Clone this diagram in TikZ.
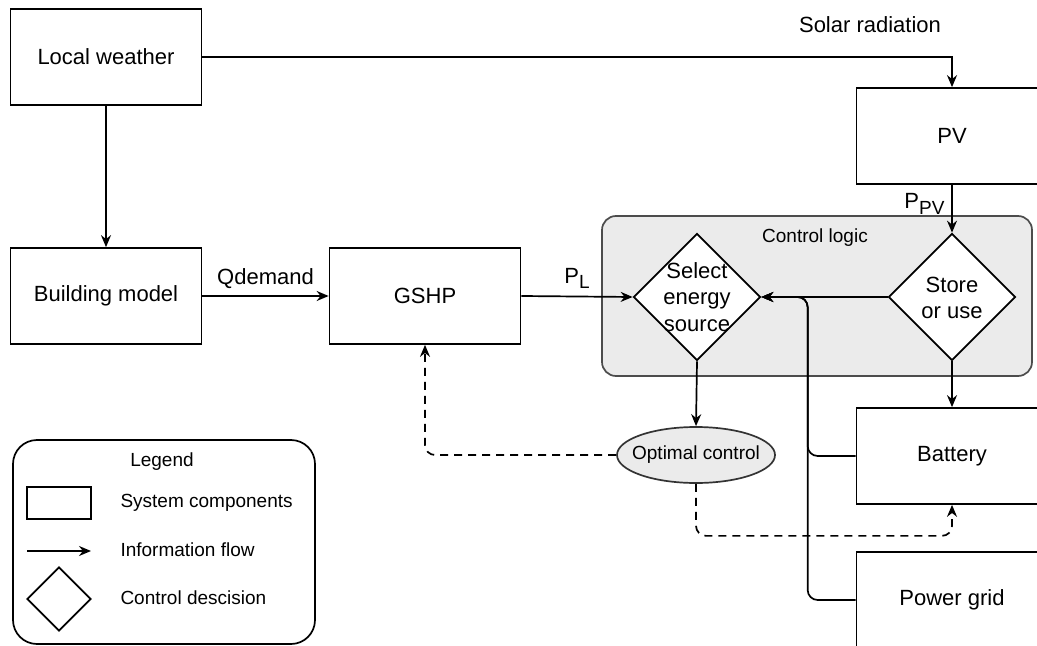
\documentclass[tikz,border=0pt]{standalone}
\usepackage{fontspec}
\setmainfont{Liberation Sans}
\usetikzlibrary{shapes.geometric,arrows.meta}
\definecolor{panel}{HTML}{EBEBEB}
\newcommand\bigfont{\fontsize{11pt}{13.4pt}\selectfont}
\newcommand\smallfont{\fontsize{9.5pt}{11.5pt}\selectfont}
\newcommand\lowsub[1]{\raisebox{-0.45ex}{\smallfont #1}}

\begin{document}
\begin{tikzpicture}[x=0.5pt, y=-0.5pt, >={Stealth[length=6pt,width=5pt]}, line width=0.85pt,
  every node/.style={font=\bigfont},
  comp/.style={draw, minimum width=95.5pt, minimum height=48pt},
  choice/.style={draw, fill=white, diamond, aspect=1, minimum size=63.5pt, inner sep=0pt},
  flow/.style={->},
  ctrlflow/.style={->, dash pattern=on 4pt off 3pt, rounded corners=5pt}]
  \useasboundingbox (0,0) rectangle (1037,646);
  % control logic panel and legend frame
  \node[draw=black!70, fill=panel, rounded corners=7pt, minimum width=215pt, minimum height=80pt] (logic) at (817,296) {};
  \node[font=\smallfont] (logiclbl) at (815,238) {Control logic};
  \node[draw, rounded corners=12pt, minimum width=151pt, minimum height=102pt] (legend) at (164,542) {};

  % components
  \node[comp] (weather) at (106,57) {Local weather};
  \node[comp] (building) at (106,296) {Building model};
  \node[comp] (gshp) at (425,296) {GSHP};
  \node[comp] (pv) at (952,136) {PV};
  \node[comp] (battery) at (952,456) {Battery};
  \node[comp] (grid) at (952,600) {Power grid};
  \node (solarlbl) at (870,25) {Solar radiation};

  % decisions
  \node[choice] (select) at (697,297) {};
  \node[align=center] (selecttxt) at (697,297) {Select\\energy\\source};
  \node[choice] (store) at (952,297) {};
  \node[align=center] (storetxt) at (952,298) {Store\\or use};
  \node[draw=black!80, fill=panel, ellipse, minimum width=79pt, minimum height=28pt, inner sep=0pt,
    label={[font=\smallfont]center:Optimal control}] (optimal) at (696,455) {};

  % information flow
  \draw[flow] (weather.east) -| (pv.north);
  \draw[flow] (weather.south) -- (building.north);
  \draw[flow] (building.east) -- node[above] {Qdemand} (gshp.west);
  \draw[flow] (gshp.east) -- node[above] {P\lowsub{L}} (select.west);
  \draw[flow] (pv.south) -- node[left, pos=0.4] {P\lowsub{PV}} (store.north);
  \draw[flow] (store.west) -- (select.east);
  \draw[flow] (store.south) -- (battery.north);
  \draw[flow, rounded corners=5pt] (battery.west) -- ++(-48,0) |- (select.east);
  \draw[flow, rounded corners=5pt] (grid.west) -- ++(-48,0) |- (select.east);
  \draw[flow] (select.south) -- (optimal.north);
  \draw[ctrlflow] (optimal.west) -| (gshp.south);
  \draw[ctrlflow] (optimal.south) -- ++(0,52) -| (battery.south);

  % legend
  \node[font=\smallfont] (legendlbl) at (162,462) {Legend};
  \node[draw, minimum width=32pt, minimum height=16pt] (keybox) at (59,503) {};
  \coordinate (keyfrom) at (27,551);
  \coordinate (keyto) at (91,551);
  \draw[flow] (keyfrom) -- (keyto);
  \node[choice, minimum size=32pt] (keychoice) at (59,599) {};
  \node[font=\smallfont, anchor=west] (keyboxlbl) at (113,503) {System components};
  \node[font=\smallfont, anchor=west] (keyflowlbl) at (113,550) {Information flow};
  \node[font=\smallfont, anchor=west] (keychoicelbl) at (113,598) {Control descision};
\end{tikzpicture}
\end{document}
